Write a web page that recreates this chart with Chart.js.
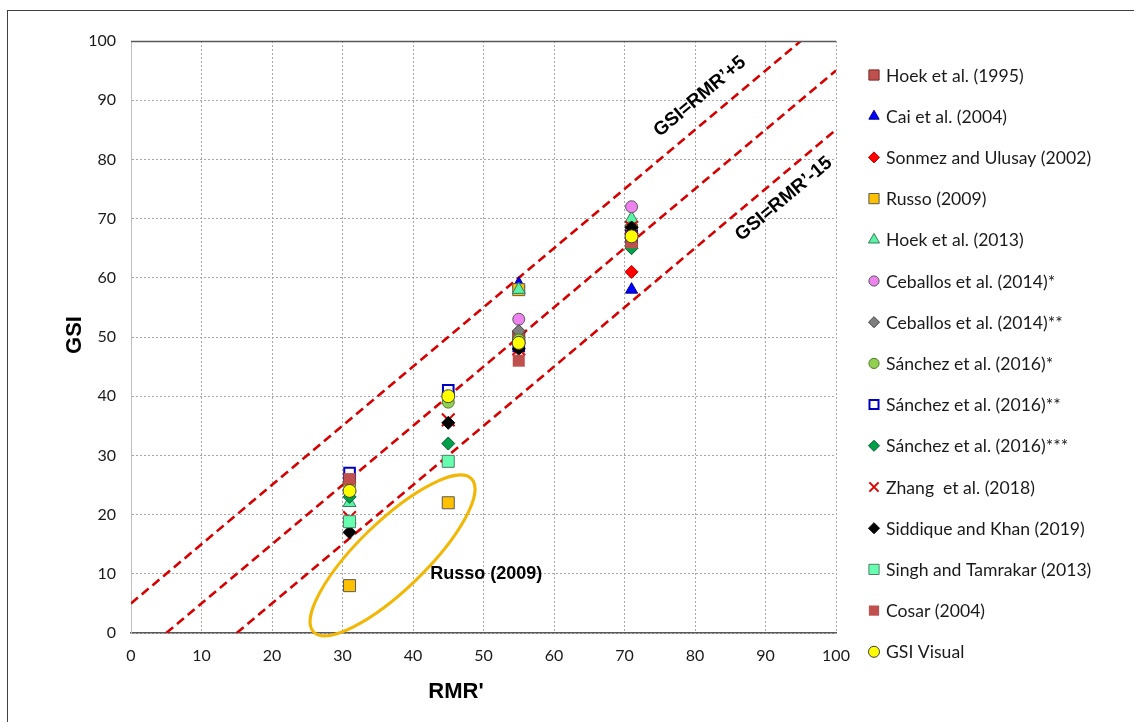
<!DOCTYPE html>
<html>
<head>
<meta charset="utf-8">
<script src="https://cdn.jsdelivr.net/npm/chart.js@4/dist/chart.umd.min.js"></script>
<style>
  html, body { margin: 0; padding: 0; background: #fff; }
  #wrap { position: relative; width: 1134px; height: 722px; }
</style>
</head>
<body>
<div id="wrap"><canvas id="c" width="1134" height="722"></canvas></div>
<script>
// RMR' (x) and GSI (y) values for each published method
const hoek1995X = [31, 55, 71];        const hoek1995Y = [26, 50, 66];
const caiX = [55, 71];                 const caiY = [59, 58];
const sonmezX = [71];                  const sonmezY = [61];
const russoX = [31, 45, 55, 71];       const russoY = [8, 22, 58, 68];
const hoek2013X = [31, 55, 71];        const hoek2013Y = [22, 58, 70];
const ceballos1X = [45, 55, 71];       const ceballos1Y = [40.5, 53, 72];
const ceballos2X = [31, 55, 71];       const ceballos2Y = [25.5, 51, 67.5];
const sanchez1X = [31, 45, 55, 71];    const sanchez1Y = [25, 39, 49.5, 65.5];
const sanchez2X = [31, 45, 55, 71];    const sanchez2Y = [27, 41, 48.5, 67];
const sanchez3X = [31, 45, 71];        const sanchez3Y = [23, 32, 65];
const zhangX = [31, 45, 55, 71];       const zhangY = [19.5, 36, 48, 68.5];
const siddiqueX = [31, 45, 55, 71];    const siddiqueY = [17, 35.5, 48, 68.5];
const singhX = [31, 45];               const singhY = [18.8, 29];
const cosarX = [31, 55, 71];           const cosarY = [26, 46, 66];
const visualX = [31, 45, 55, 71];      const visualY = [24, 40, 49, 67];

// Reference lines GSI = RMR' + 5, GSI = RMR' - 5, GSI = RMR' - 15
const upperX = [0, 95];   const upperY = [5, 100];
const middleX = [5, 100]; const middleY = [0, 95];
const lowerX = [15, 100]; const lowerY = [0, 85];

// Axis ticks
const xTicks = [0, 10, 20, 30, 40, 50, 60, 70, 80, 90, 100];
const yTicks = [0, 10, 20, 30, 40, 50, 60, 70, 80, 90, 100];

const pts = (xs, ys) => xs.map((x, i) => ({ x: x, y: ys[i] }));

const series = [
  { label: 'Hoek et al. (1995)', xs: hoek1995X, ys: hoek1995Y, style: 'rect', r: 8.5, fill: '#c0504d', stroke: '#7a2a28', bw: 1 },
  { label: 'Cai et al. (2004)', xs: caiX, ys: caiY, style: 'triangle', r: 7, fill: '#0000ff', stroke: '#00008b', bw: 1 },
  { label: 'Sonmez and Ulusay (2002)', xs: sonmezX, ys: sonmezY, style: 'rectRot', r: 6.5, fill: '#ff0000', stroke: '#c00000', bw: 1 },
  { label: 'Russo (2009)', xs: russoX, ys: russoY, style: 'rect', r: 8.5, fill: '#ffc000', stroke: '#595959', bw: 1 },
  { label: 'Hoek et al. (2013)', xs: hoek2013X, ys: hoek2013Y, style: 'triangle', r: 7.5, fill: '#5cf2a6', stroke: '#2f7f58', bw: 1 },
  { label: 'Ceballos et al. (2014)*', xs: ceballos1X, ys: ceballos1Y, style: 'circle', r: 6, fill: '#ee82ee', stroke: '#595959', bw: 1 },
  { label: 'Ceballos et al. (2014)**', xs: ceballos2X, ys: ceballos2Y, style: 'rectRot', r: 6.5, fill: '#7f7f7f', stroke: '#404040', bw: 1 },
  { label: 'Sánchez et al. (2016)*', xs: sanchez1X, ys: sanchez1Y, style: 'circle', r: 6, fill: '#92d050', stroke: '#4f7a2c', bw: 1 },
  { label: 'Sánchez et al. (2016)**', xs: sanchez2X, ys: sanchez2Y, style: 'rect', r: 7.5, fill: '#ffffff', stroke: '#0000c0', bw: 2 },
  { label: 'Sánchez et al. (2016)***', xs: sanchez3X, ys: sanchez3Y, style: 'rectRot', r: 6.5, fill: '#00a04a', stroke: '#00602c', bw: 1 },
  { label: 'Zhang  et al. (2018)', xs: zhangX, ys: zhangY, style: 'crossRot', r: 9, fill: '#ff0000', stroke: '#e00000', bw: 2 },
  { label: 'Siddique and Khan (2019)', xs: siddiqueX, ys: siddiqueY, style: 'rectRot', r: 6.5, fill: '#000000', stroke: '#000000', bw: 1 },
  { label: 'Singh and Tamrakar (2013)', xs: singhX, ys: singhY, style: 'rect', r: 8.5, fill: '#66ffb0', stroke: '#4f7f6a', bw: 1 },
  { label: 'Cosar (2004)', xs: cosarX, ys: cosarY, style: 'rect', r: 8.5, fill: '#c0504d', stroke: '#c0504d', bw: 0 },
  { label: 'GSI Visual', xs: visualX, ys: visualY, style: 'circle', r: 6.5, fill: '#ffff00', stroke: '#404040', bw: 1 }
];

const n = series.length;
// later series sit on top of earlier ones
const markerSets = series.map((s, i) => ({
  type: 'scatter',
  label: s.label,
  data: pts(s.xs, s.ys),
  pointStyle: s.style,
  pointRadius: s.r,
  pointHoverRadius: s.r,
  backgroundColor: s.fill,
  borderColor: s.stroke,
  pointBorderWidth: s.bw,
  borderWidth: s.bw,
  order: n - i
}));

const guide = (xs, ys) => ({
  type: 'line',
  label: '',
  data: pts(xs, ys),
  showLine: true,
  pointRadius: 0,
  borderColor: '#d60000',
  borderWidth: 2.6,
  borderDash: [9, 5],
  fill: false,
  order: 100
});

const chartFont = 'Lato, "Noto Sans", sans-serif';
const boldFont = '"Liberation Sans", Arial, sans-serif';

function marker(ctx, s, x, y, scale) {
  const r = s.r * scale;
  ctx.save();
  ctx.fillStyle = s.fill;
  ctx.strokeStyle = s.stroke;
  ctx.lineWidth = s.bw;
  ctx.beginPath();
  if (s.style === 'circle') {
    ctx.arc(x, y, r, 0, Math.PI * 2);
  } else if (s.style === 'rect') {
    const h = r * Math.SQRT1_2;
    ctx.rect(x - h, y - h, 2 * h, 2 * h);
  } else if (s.style === 'rectRot') {
    ctx.moveTo(x - r, y); ctx.lineTo(x, y - r); ctx.lineTo(x + r, y); ctx.lineTo(x, y + r); ctx.closePath();
  } else if (s.style === 'triangle') {
    ctx.moveTo(x, y - r); ctx.lineTo(x + r * 0.866, y + r * 0.5); ctx.lineTo(x - r * 0.866, y + r * 0.5); ctx.closePath();
  } else if (s.style === 'crossRot') {
    const d = r * 0.6;
    ctx.moveTo(x - d, y - d); ctx.lineTo(x + d, y + d);
    ctx.moveTo(x + d, y - d); ctx.lineTo(x - d, y + d);
    ctx.stroke(); ctx.restore(); return;
  }
  ctx.fill();
  if (s.bw > 0) ctx.stroke();
  ctx.restore();
}

const decorations = {
  id: 'decorations',
  beforeDraw(chart) {
    const ctx = chart.ctx;
    ctx.save();
    ctx.fillStyle = '#fff';
    ctx.fillRect(0, 0, chart.width, chart.height);
    // outer frame
    ctx.strokeStyle = '#404040';
    ctx.lineWidth = 1;
    ctx.strokeRect(7.5, 10.5, 1200, 800);
    ctx.restore();
  },
  afterDraw(chart) {
    const ctx = chart.ctx;
    const xs = chart.scales.x, ys = chart.scales.y;
    const area = chart.chartArea;
    ctx.save();

    // solid top border of the plot area
    ctx.strokeStyle = '#595959';
    ctx.lineWidth = 1.5;
    ctx.beginPath();
    ctx.moveTo(area.left, Math.round(area.top) + 0.5);
    ctx.lineTo(area.right, Math.round(area.top) + 0.5);
    ctx.stroke();

    // slope of the 1:1 lines in pixel space
    const ang = Math.atan2(ys.getPixelForValue(1) - ys.getPixelForValue(0), xs.getPixelForValue(1) - xs.getPixelForValue(0));

    // Russo (2009) group outline
    const cx = xs.getPixelForValue(37.1), cy = ys.getPixelForValue(13.1);
    ctx.strokeStyle = '#f2b705';
    ctx.lineWidth = 3;
    ctx.beginPath();
    ctx.ellipse(cx, cy, 110, 34, -0.77, 0, Math.PI * 2);
    ctx.stroke();

    ctx.fillStyle = '#000';
    ctx.font = 'bold 18px ' + boldFont;
    ctx.textAlign = 'center';
    ctx.textBaseline = 'middle';
    ctx.fillText('Russo (2009)', xs.getPixelForValue(50.4), ys.getPixelForValue(9.9));

    // labels along the reference lines
    ctx.font = 'bold 19px ' + boldFont;
    const lineLabel = (text, x, y) => {
      ctx.save();
      ctx.translate(xs.getPixelForValue(x), ys.getPixelForValue(y));
      ctx.rotate(ang);
      ctx.fillText(text, 0, 0);
      ctx.restore();
    };
    lineLabel('GSI=RMR’+5', 80.7, 90.6);
    lineLabel('GSI=RMR’-15', 92.6, 73.3);

    // axis titles
    ctx.font = 'bold 22px ' + boldFont;
    ctx.fillText("RMR'", 456, 692);
    ctx.save();
    ctx.translate(75, 335);
    ctx.rotate(-Math.PI / 2);
    ctx.fillText('GSI', 0, 0);
    ctx.restore();

    // legend
    ctx.font = '17.6px ' + chartFont;
    ctx.textAlign = 'left';
    series.forEach((s, i) => {
      const y = 75 + i * 41.2;
      marker(ctx, s, 874, y, 0.85);
      ctx.fillStyle = '#1a1a1a';
      ctx.fillText(s.label, 886, y + 1);
    });
    ctx.restore();
  }
};

new Chart(document.getElementById('c'), {
  type: 'scatter',
  data: { datasets: markerSets.concat([guide(upperX, upperY), guide(middleX, middleY), guide(lowerX, lowerY)]) },
  options: {
    responsive: false,
    animation: false,
    devicePixelRatio: 1,
    layout: { padding: { left: 0, top: 41, right: 298, bottom: 0 } },
    plugins: { legend: { display: false }, tooltip: { enabled: false } },
    scales: {
      x: {
        type: 'linear', min: 0, max: 100,
        afterFit(scale) { scale.height = 89; },
        afterBuildTicks(scale) { scale.ticks = xTicks.map(v => ({ value: v })); },
        ticks: { font: { family: chartFont, size: 16 }, color: '#1a1a1a', padding: 13, maxRotation: 0 },
        grid: { color: '#a6a6a6', lineWidth: 1, drawTicks: false },
        border: { display: true, color: '#595959', width: 1.5, dash: [2, 2] }
      },
      y: {
        type: 'linear', min: 0, max: 100,
        afterFit(scale) { scale.width = 131; },
        afterBuildTicks(scale) { scale.ticks = yTicks.map(v => ({ value: v })); },
        ticks: { font: { family: chartFont, size: 16 }, color: '#1a1a1a', padding: 15 },
        grid: { color: '#a6a6a6', lineWidth: 1, drawTicks: false },
        border: { display: true, color: '#bfbfbf', width: 1, dash: [2, 2] }
      }
    }
  },
  plugins: [decorations]
});
</script>
</body>
</html>
